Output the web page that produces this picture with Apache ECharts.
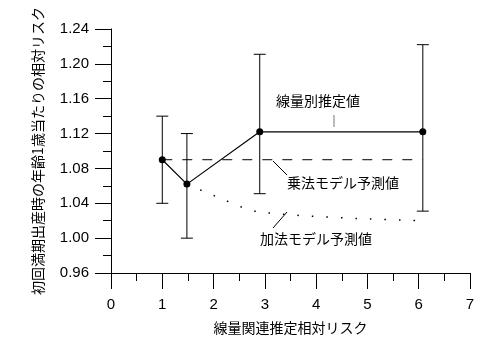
<!DOCTYPE html>
<html><head><meta charset="utf-8">
<script src="https://cdn.jsdelivr.net/npm/echarts@6/dist/echarts.min.js"></script>
<style>html,body{margin:0;padding:0;background:#fff}#c{width:499px;height:359px}</style>
</head><body><div id="c"></div>
<script>
const doseX = [1.0, 1.48, 2.9, 6.08];
const estimate = [1.09, 1.062, 1.122, 1.122];
const lower = [1.04, 1.00, 1.051, 1.031];
const upper = [1.14, 1.12, 1.211, 1.222];
const multX = [1.0, 6.08];
const multY = [1.09, 1.09];
const addX = [1.48, 2.0, 2.9, 6.08];
const addY = [1.062, 1.049, 1.03, 1.02];
const yTitle = '初回満期出産時の年齢1歳当たりの相対リスク';
const xTitle = '線量関連推定相対リスク';
const labelEst = '線量別推定値';
const labelMult = '乗法モデル予測値';
const labelAdd = '加法モデル予測値';

const chart = echarts.init(document.getElementById('c'));
const font = 'Liberation Sans, Arial, sans-serif';
const jfont = '"Noto Sans CJK JP", sans-serif';
const axisCommon = {
  axisLine: {show: true, lineStyle: {color: '#000', width: 1}},
  axisTick: {show: true, length: 16, lineStyle: {color: '#000', width: 1}},
  minorTick: {show: true, splitNumber: 2, length: 8, lineStyle: {color: '#000', width: 1}},
  splitLine: {show: false},
  axisLabel: {color: '#000', fontSize: 15, fontFamily: font}
};
chart.setOption({
  animation: false,
  grid: {left: 111, right: 29, top: 29, bottom: 86},
  xAxis: Object.assign({type: 'value', min: 0, max: 7, interval: 1,
    name: xTitle, nameLocation: 'middle', nameGap: 48, nameMoveOverlap: false,
    nameTextStyle: {color: '#000', fontSize: 14, fontFamily: jfont}}, axisCommon,
    {axisLabel: Object.assign({}, axisCommon.axisLabel, {margin: 24})}),
  yAxis: Object.assign({type: 'value', min: 0.96, max: 1.24, interval: 0.04,
    name: yTitle, nameLocation: 'middle', nameGap: 66, nameRotate: 90, nameMoveOverlap: false,
    nameTextStyle: {color: '#000', fontSize: 14, fontFamily: jfont}}, axisCommon,
    {axisLabel: Object.assign({}, axisCommon.axisLabel, {margin: 22, formatter: v => v.toFixed(2)})}),
  series: [
    {type: 'custom', renderItem: function(params, api){
        const x = api.value(0), lo = api.value(1), hi = api.value(2);
        const pLo = api.coord([x, lo]), pHi = api.coord([x, hi]);
        const w = 6;
        const st = {stroke: '#000', lineWidth: 1};
        return {type: 'group', children: [
          {type: 'line', shape: {x1: pLo[0], y1: pLo[1], x2: pHi[0], y2: pHi[1]}, style: st},
          {type: 'line', shape: {x1: pLo[0]-w, y1: pLo[1], x2: pLo[0]+w, y2: pLo[1]}, style: st},
          {type: 'line', shape: {x1: pHi[0]-w, y1: pHi[1], x2: pHi[0]+w, y2: pHi[1]}, style: st}
        ]};
      },
      data: doseX.map((x,i)=>[x, lower[i], upper[i]]), z: 2},
    {type: 'line', data: multX.map((x,i)=>[x, multY[i]]), symbol: 'none',
      lineStyle: {color: '#000', width: 1, type: [10, 10]}, z: 1},
    {type: 'line', data: addX.map((x,i)=>[x, addY[i]]), symbol: 'none', smooth: 0.3,
      lineStyle: {color: '#000', width: 1.5, type: [1.5, 13]}, z: 1},
    {type: 'line', data: doseX.map((x,i)=>[x, estimate[i]]), symbol: 'circle', symbolSize: 7,
      itemStyle: {color: '#000'}, lineStyle: {color: '#000', width: 1.2}, z: 3}
  ],
  graphic: [
    {type: 'text', left: 276, top: 94, style: {text: labelEst, fontSize: 14, fontFamily: jfont, fill: '#000'}},
    {type: 'line', shape: {x1: 334, y1: 115, x2: 334, y2: 127}, style: {stroke: '#777', lineWidth: 1}},
    {type: 'text', left: 287, top: 176, style: {text: labelMult, fontSize: 14, fontFamily: jfont, fill: '#000'}},
    {type: 'line', shape: {x1: 273, y1: 161, x2: 287, y2: 175}, style: {stroke: '#000', lineWidth: 1}},
    {type: 'text', left: 260, top: 232, style: {text: labelAdd, fontSize: 14, fontFamily: jfont, fill: '#000'}},
    {type: 'line', shape: {x1: 273, y1: 228, x2: 287, y2: 212}, style: {stroke: '#000', lineWidth: 1}}
  ]
});
</script></body></html>
